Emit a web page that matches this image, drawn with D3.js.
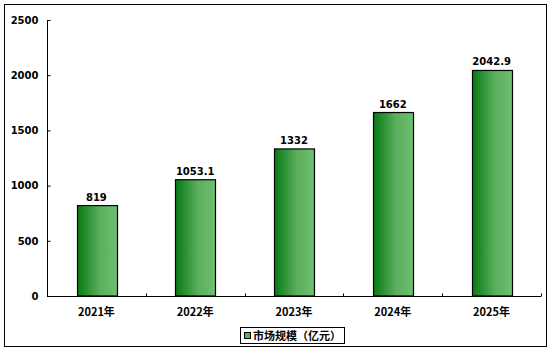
<!DOCTYPE html>
<html><head><meta charset="utf-8">
<script src="https://cdn.jsdelivr.net/npm/d3@7/dist/d3.min.js"></script>
<style>body{margin:0;background:#fff}svg{display:block}text{font-family:"Noto Sans CJK SC","DejaVu Sans",sans-serif;font-weight:bold;fill:#000}</style>
</head><body>
<script>
const categories = ["2021年","2022年","2023年","2024年","2025年"];
const values = [819, 1053.1, 1332, 1662, 2042.9];
const valueLabels = ["819","1053.1","1332","1662","2042.9"];
const yTicks = [0,500,1000,1500,2000,2500];
const seriesName = "市场规模（亿元）";

const W=554,H=352;
const svg=d3.select("body").append("svg").attr("width",W).attr("height",H);
const defs=svg.append("defs");
const g=defs.append("linearGradient").attr("id","gr").attr("x1","0").attr("x2","1").attr("y1","0").attr("y2","0");
g.append("stop").attr("offset","0%").attr("stop-color","#067a12");
g.append("stop").attr("offset","55%").attr("stop-color","#5aae5c");
g.append("stop").attr("offset","100%").attr("stop-color","#6fbf72");

svg.append("rect").attr("x",4.5).attr("y",4.5).attr("width",542).attr("height",342).attr("fill","#fff").attr("stroke","#000").attr("stroke-width",1);

const x=d3.scaleBand().domain(categories).range([47,541]).paddingInner(0.6).paddingOuter(0.3);
const xb=d3.scaleBand().domain(categories).range([47,541]);
const y=d3.scaleLinear().domain([0,2500]).range([296,20]);

// y axis
const ya=svg.append("g").attr("transform","translate(47.5,0)").call(d3.axisLeft(y).tickValues(yTicks).tickSize(-3).tickPadding(9).tickFormat(d3.format("d")));
ya.selectAll("path,line").attr("stroke","#000");
ya.select(".domain").attr("d","M0,20V296.5");
ya.selectAll("text").style("font-size","10px").style("font-family","'DejaVu Sans',sans-serif").style("font-weight","bold");

// bars
svg.selectAll("rect.bar").data(values).join("rect").attr("class","bar")
 .attr("x",(d,i)=>Math.round(x(categories[i]))+0.5).attr("width",Math.round(x.bandwidth()))
 .attr("y",d=>y(d)).attr("height",d=>296-y(d))
 .attr("fill","url(#gr)").attr("stroke","#000").attr("stroke-width",1.2);

// x axis
const xa=svg.append("g").attr("transform","translate(0,296.5)");
xa.append("line").attr("x1",47).attr("x2",541).attr("stroke","#000");
xa.selectAll("line.t").data(categories).join("line").attr("class","t")
 .attr("x1",d=>Math.round(xb(d)+xb.bandwidth())+0.5).attr("x2",d=>Math.round(xb(d)+xb.bandwidth())+0.5).attr("y1",0).attr("y2",-3).attr("stroke","#000");
xa.selectAll("text").data(categories).join("text")
 .attr("x",d=>xb(d)+xb.bandwidth()/2).attr("y",19).attr("text-anchor","middle").style("font-size","11px").text(d=>d);

// value labels
svg.selectAll("text.v").data(values).join("text").attr("class","v")
 .attr("x",(d,i)=>xb(categories[i])+xb.bandwidth()/2).attr("y",d=>y(d)-5)
 .attr("text-anchor","middle").style("font-size","10px").style("font-family","'DejaVu Sans',sans-serif").text((d,i)=>valueLabels[i]);

// legend
const lg=svg.append("g");
lg.append("rect").attr("x",240.5).attr("y",327.5).attr("width",104).attr("height",16).attr("fill","#fff").attr("stroke","#000");
lg.append("rect").attr("x",244.5).attr("y",332.5).attr("width",6).attr("height",6).attr("fill","#5aae5c").attr("stroke","#000");
lg.append("text").attr("x",253).attr("y",339.5).style("font-size","11px").text(seriesName);
</script>
</body></html>
